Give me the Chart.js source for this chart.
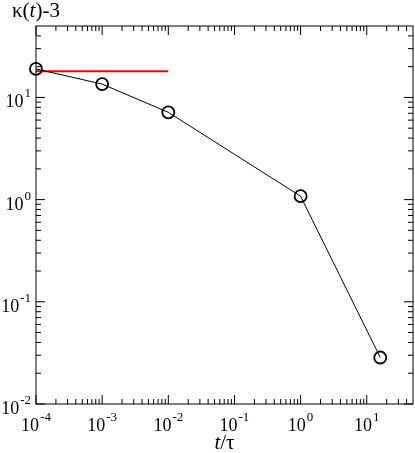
<!DOCTYPE html>
<html><head><meta charset="utf-8">
<script src="https://cdn.jsdelivr.net/npm/chart.js@4.4.0/dist/chart.umd.min.js"></script>
<style>html,body{margin:0;padding:0;background:#fff}#wrap{width:415px;height:453px}</style>
</head><body><div id="wrap"><canvas id="c" width="415" height="453"></canvas></div>
<script>
const timeRatio = [1e-4, 1e-3, 1e-2, 1, 16];
const kurtosis = [19.0, 13.5, 7.15, 1.08, 0.0285];
const refX = [1e-4, 1e-2];
const refY = [18.0, 18.0];
const xMajorExps = [-4, -3, -2, -1, 0, 1];
const yMajorExps = [-2, -1, 0, 1];
const xRange = [1e-4, 50];
const yRange = [1e-2, 50];

const SERIF = '"Liberation Serif","DejaVu Serif",serif';

function minorValues(min, max){
  const out=[];
  for(let e=Math.floor(Math.log10(min)); e<=Math.ceil(Math.log10(max)); e++){
    for(let m=2;m<=9;m++){const v=m*Math.pow(10,e); if(v>min*1.0001 && v<max*0.9999) out.push(v);}
  }
  return out;
}

const framePlugin = {
  id:'frame',
  afterDraw(chart){
    const ctx=chart.ctx, a=chart.chartArea, xs=chart.scales.x, ys=chart.scales.y;
    ctx.save();
    ctx.strokeStyle='#000'; ctx.lineWidth=1;
    ctx.strokeRect(a.left, a.top, a.right-a.left, a.bottom-a.top);
    ctx.beginPath();
    const majL=9, minL=5;
    xMajorExps.forEach(e=>{const px=xs.getPixelForValue(Math.pow(10,e));
      ctx.moveTo(px,a.bottom);ctx.lineTo(px,a.bottom-majL);ctx.moveTo(px,a.top);ctx.lineTo(px,a.top+majL);});
    minorValues(xRange[0],xRange[1]).forEach(v=>{const px=xs.getPixelForValue(v);
      ctx.moveTo(px,a.bottom);ctx.lineTo(px,a.bottom-minL);ctx.moveTo(px,a.top);ctx.lineTo(px,a.top+minL);});
    yMajorExps.forEach(e=>{const py=ys.getPixelForValue(Math.pow(10,e));
      ctx.moveTo(a.left,py);ctx.lineTo(a.left+majL,py);ctx.moveTo(a.right,py);ctx.lineTo(a.right-majL,py);});
    minorValues(yRange[0],yRange[1]).forEach(v=>{const py=ys.getPixelForValue(v);
      ctx.moveTo(a.left,py);ctx.lineTo(a.left+minL,py);ctx.moveTo(a.right,py);ctx.lineTo(a.right-minL,py);});
    ctx.stroke();

    ctx.fillStyle='#000'; ctx.textBaseline='alphabetic';
    const baseFont='18px '+SERIF, supFont='13px '+SERIF;
    function measure(e){ctx.font=baseFont;const w1=ctx.measureText('10').width;ctx.font=supFont;const w2=ctx.measureText(String(e)).width;return [w1,w2];}
    function drawPow(e,x,y){ctx.font=baseFont;ctx.fillText('10',x,y);const w1=ctx.measureText('10').width;ctx.font=supFont;ctx.fillText(String(e),x+w1+1,y-10);}
    xMajorExps.forEach(e=>{const px=xs.getPixelForValue(Math.pow(10,e));const [w1,w2]=measure(e);
      drawPow(e,px-(w1+1+w2)/2,431);});
    yMajorExps.forEach(e=>{const py=ys.getPixelForValue(Math.pow(10,e));const [w1,w2]=measure(e);
      drawPow(e,a.left-5-w1-1-w2,py+10);});

    // axis titles
    ctx.font='21px '+SERIF;
    let x=12,y=17;
    ctx.fillText('κ(',x,y); x+=ctx.measureText('κ(').width;
    ctx.font='italic 21px '+SERIF; ctx.fillText('t',x,y); x+=ctx.measureText('t').width;
    ctx.font='21px '+SERIF; ctx.fillText(')-3',x,y);

    ctx.font='italic 21px '+SERIF; const wt=ctx.measureText('t').width;
    ctx.font='21px '+SERIF; const wr=ctx.measureText('/τ').width;
    const cx=(a.left+a.right)/2, sx=cx-(wt+wr)/2;
    ctx.font='italic 21px '+SERIF; ctx.fillText('t',sx,449);
    ctx.font='21px '+SERIF; ctx.fillText('/τ',sx+wt,449);
    ctx.restore();
  }
};

new Chart(document.getElementById('c'),{
  type:'line',
  data:{datasets:[
    {data:refX.map((v,i)=>({x:v,y:refY[i]})),borderColor:'#ff0000',borderWidth:2,pointRadius:0,fill:false,tension:0,order:2},
    {data:timeRatio.map((v,i)=>({x:v,y:kurtosis[i]})),borderColor:'#000',borderWidth:1,pointRadius:6,pointBorderWidth:1.8,
     pointBackgroundColor:'rgba(0,0,0,0)',pointBorderColor:'#000',pointStyle:'circle',fill:false,tension:0,order:1}
  ]},
  plugins:[framePlugin],
  options:{
    responsive:false,animation:false,
    layout:{autoPadding:false,padding:{left:36,right:2,top:26,bottom:49}},
    plugins:{legend:{display:false},tooltip:{enabled:false}},
    scales:{
      x:{type:'logarithmic',display:false,min:xRange[0],max:xRange[1]},
      y:{type:'logarithmic',display:false,min:yRange[0],max:yRange[1]}
    },
    elements:{line:{borderCapStyle:'butt'}},
    clip:false
  }
});
</script></body></html>
